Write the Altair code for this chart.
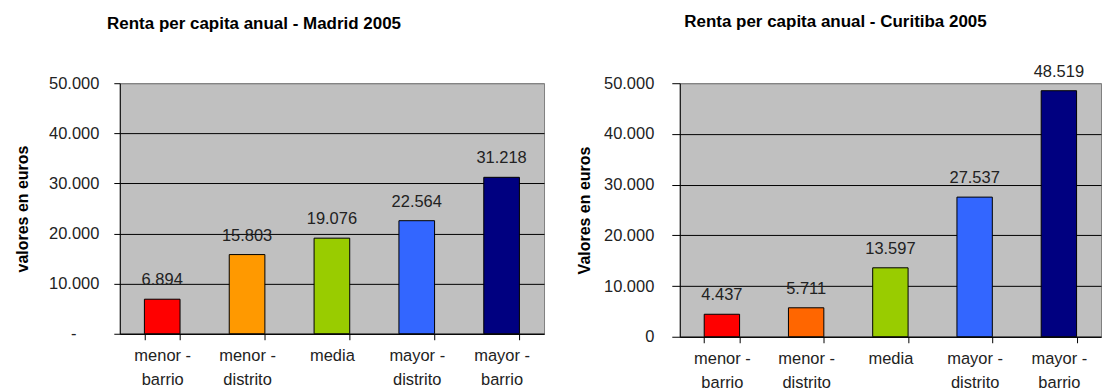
import altair as alt
import pandas as pd

categories = ["menor -\nbarrio", "menor -\ndistrito", "media", "mayor -\ndistrito", "mayor -\nbarrio"]
madrid_values = [6894, 15803, 19076, 22564, 31218]
curitiba_values = [4437, 5711, 13597, 27537, 48519]
madrid_colors = ["#FF0000", "#FF9900", "#99CC00", "#3366FF", "#000080"]
curitiba_colors = ["#FF0000", "#FF6600", "#99CC00", "#3366FF", "#000080"]
y_ticks = [0, 10000, 20000, 30000, 40000, 50000]

FONT = "Liberation Sans"


def fmt(v):
    return f"{v:,}".replace(",", ".")


def make(values, colors, title, ytitle, zero_expr, zero_pad, width, height, title_dx,
         title_offset, tick_size, label_pad, title_pad):
    df = pd.DataFrame({
        "cat": categories,
        "val": values,
        "color": colors,
        "label": [fmt(v) for v in values],
    })
    x = alt.X(
        "cat:N", sort=categories,
        scale=alt.Scale(paddingInner=0.58, paddingOuter=0.29),
        axis=alt.Axis(
            title=None, labelAngle=0, labelExpr="split(datum.label, '\\n')",
            labelFont=FONT, labelFontSize=16.5, labelColor="#222222",
            labelLineHeight=24, labelPadding=8, tickBand="extent",
            tickColor="black", tickSize=6, domainColor="black",
        ),
    )
    y = alt.Y(
        "val:Q", scale=alt.Scale(domain=[0, 50000], nice=False),
        axis=alt.Axis(
            title=ytitle, values=y_ticks,
            labelExpr=zero_expr,
            labelFont=FONT, labelFontSize=16.5, labelColor="#222222",
            labelPadding={"condition": {"test": "datum.value == 0", "value": zero_pad},
                          "value": label_pad},
            tickSize=tick_size, tickColor="black",
            domainColor="black",
            grid=True,
            gridColor={"condition": {"test": "datum.value >= 50000", "value": "#808080"},
                       "value": "black"},
            gridWidth=1,
            titleFont=FONT, titleFontSize=16, titleFontWeight="bold",
            titleColor="black", titlePadding=title_pad,
        ),
    )
    base = alt.Chart(df)
    bars = base.mark_bar(stroke="black", strokeWidth=1).encode(
        x=x, y=y, color=alt.Color("color:N", scale=None)
    )
    text = base.mark_text(dy=-19, fontSize=16.5, font=FONT, color="#222222",
                          baseline="middle").encode(
        x=alt.X("cat:N", sort=categories), y="val:Q", text="label:N"
    )
    return alt.layer(bars, text).properties(
        width=width, height=height,
        title=alt.TitleParams(title, font=FONT, fontSize=17, fontWeight="bold",
                              color="black", anchor="middle", dx=title_dx,
                              frame="group", offset=title_offset),
    )


left = make(
    madrid_values, madrid_colors, "Renta per capita anual - Madrid 2005",
    "valores en euros",
    "datum.value == 0 ? '-' : replace(format(datum.value, ','), ',', '.')",
    38, 425, 251, -78, 42, 6, 15, 18,
)
right = make(
    curitiba_values, curitiba_colors, "Renta per capita anual - Curitiba 2005",
    "Valores en euros",
    "replace(format(datum.value, ','), ',', '.')",
    18, 422, 254, -55, 33, 8, 18, 11,
)

chart = alt.hconcat(left, right, spacing=31).configure(
    padding={"left": 6, "top": 4, "right": 0, "bottom": 0},
    background="white",
).configure_view(fill="#C0C0C0", stroke="#808080", strokeWidth=1)

chart.save("out.html", embed_options={"renderer": "svg", "actions": False})
